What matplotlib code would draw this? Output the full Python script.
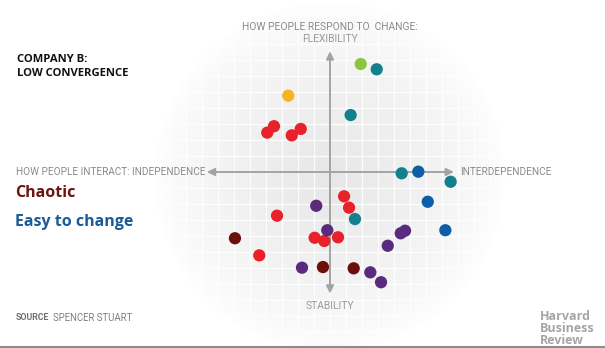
import numpy as np
import matplotlib
matplotlib.use("Agg")
import matplotlib.pyplot as plt

# ---- data (grid units relative to axis crossing; x: independence->interdependence, y: stability->flexibility)
red_x = [-3.50, -3.92, -1.83, -2.39, 0.88, 1.19, -3.31, -0.96, -0.36, 0.50, -4.42]
red_y = [2.86, 2.46, 2.69, 2.29, -1.52, -2.23, -2.73, -4.11, -4.31, -4.08, -5.21]
darkred_x = [-5.94, -0.44, 1.48]
darkred_y = [-4.14, -5.94, -6.02]
purple_x = [-0.86, -0.17, 4.69, 4.42, 3.61, -1.75, 2.52, 3.19]
purple_y = [-2.11, -3.64, -3.67, -3.83, -4.61, -5.98, -6.27, -6.89]
teal_x = [2.92, 1.29, 4.48, 7.54, 1.56]
teal_y = [6.42, 3.56, -0.08, -0.61, -2.94]
blue_x = [5.52, 6.11, 7.21]
blue_y = [0.02, -1.86, -3.64]
green_x = [1.92]
green_y = [6.75]
yellow_x = [-2.61]
yellow_y = [4.77]

groups = [
    (red_x, red_y, "#e8212b"),
    (darkred_x, darkred_y, "#6a0f0b"),
    (purple_x, purple_y, "#5a2a7e"),
    (teal_x, teal_y, "#13808e"),
    (blue_x, blue_y, "#0d5ea7"),
    (green_x, green_y, "#8cc63f"),
    (yellow_x, yellow_y, "#f7b324"),
]

cond = "Roboto"
boldf = "Open Sans"

W, H = 605, 348
U = 16.0  # pixels per grid unit
cx, cy = 330.0, 172.0
fig = plt.figure(figsize=(W / 100, H / 100), dpi=100)
ax = fig.add_axes([0, 0, 1, 1])
xmin, xmax = -cx / U, (W - cx) / U
ymin, ymax = -(H - cy) / U, cy / U
ax.set_xlim(xmin, xmax)
ax.set_ylim(ymin, ymax)
ax.axis("off")

# radial grey background
gx = np.linspace(xmin, xmax, 605)
gy = np.linspace(ymax, ymin, 348)
GX, GY = np.meshgrid(gx, gy)
r = np.hypot(GX, (GY + 0.3)) / 11.0
t = np.clip(1 - r, 0, 1)
t = t ** 0.75
val = 1 - 0.095 * t
img = np.dstack([val, val, val])
ax.imshow(img, extent=(xmin, xmax, ymin, ymax), aspect="auto", zorder=0, interpolation="bilinear")

# white grid
for k in range(-13, 13):
    ax.axvline(k, color="white", lw=0.9, alpha=0.9, zorder=1)
for k in range(-12, 12):
    ax.axhline(k, color="white", lw=0.9, alpha=0.9, zorder=1)

# axis arrows
acol = "#a3a3a3"
ap = dict(arrowstyle="-|>,head_length=0.45,head_width=0.22", color=acol, lw=1.4, shrinkA=0, shrinkB=0)
ax.annotate("", xy=(-7.7, 0), xytext=(0, 0), arrowprops=ap, zorder=2)
ax.annotate("", xy=(7.75, 0), xytext=(0, 0), arrowprops=ap, zorder=2)
ax.annotate("", xy=(0, 7.55), xytext=(0, 0), arrowprops=ap, zorder=2)
ax.annotate("", xy=(0, -7.6), xytext=(0, 0), arrowprops=ap, zorder=2)

# points
for xs, ys, c in groups:
    ax.scatter(xs, ys, s=78, color=c, edgecolors="none", zorder=3)

# text helper (pixel coordinates -> figure fraction)
def ftxt(px, py, s, **kw):
    fig.text(px / W, 1 - py / H, s, **kw)

grey = "#8a8a8a"
fs = 7.2
ftxt(330, 27, "HOW PEOPLE RESPOND TO  CHANGE:", ha="center", va="center", fontsize=7.4, color=grey, family=cond)
ftxt(330, 38.5, "FLEXIBILITY", ha="center", va="center", fontsize=7.4, color="#9a9a9a", family=cond)
ftxt(330, 306, "STABILITY", ha="center", va="center", fontsize=7.4, color="#9a9a9a", family=cond)
ftxt(16, 172, "HOW PEOPLE INTERACT: INDEPENDENCE", ha="left", va="center", fontsize=fs, color=grey, family=cond)
ftxt(460, 172, "INTERDEPENDENCE", ha="left", va="center", fontsize=fs, color=grey, family=cond)

ftxt(17, 59, "COMPANY B:", ha="left", va="center", fontsize=8.1, color="#111111", family=boldf, weight="bold")
ftxt(17, 73, "LOW CONVERGENCE", ha="left", va="center", fontsize=8.1, color="#111111", family=boldf, weight="bold")

ftxt(15, 193, "Chaotic", ha="left", va="center", fontsize=11.5, color="#6d1411", family=boldf, weight="bold")
ftxt(15, 222, "Easy to change", ha="left", va="center", fontsize=11.5, color="#1b5b97", family=boldf, weight="bold")

ftxt(16, 318, "SOURCE", ha="left", va="center", fontsize=6.3, color="#707070", family=cond, weight="bold")
ftxt(53, 318, "SPENCER STUART", ha="left", va="center", fontsize=6.9, color="#808080", family=cond)

ftxt(540, 317, "Harvard", ha="left", va="center", fontsize=9.0, color="#a5a5a5", family=boldf, weight="bold")
ftxt(540, 329, "Business", ha="left", va="center", fontsize=9.0, color="#a5a5a5", family=boldf, weight="bold")
ftxt(540, 340.5, "Review", ha="left", va="center", fontsize=9.0, color="#a5a5a5", family=boldf, weight="bold")

# bottom rule
fig.add_artist(plt.Line2D([0, 1], [1 - 346.5 / H, 1 - 346.5 / H], color="#8c8c8c", lw=1.5))

fig.savefig("out.png", dpi=100)
